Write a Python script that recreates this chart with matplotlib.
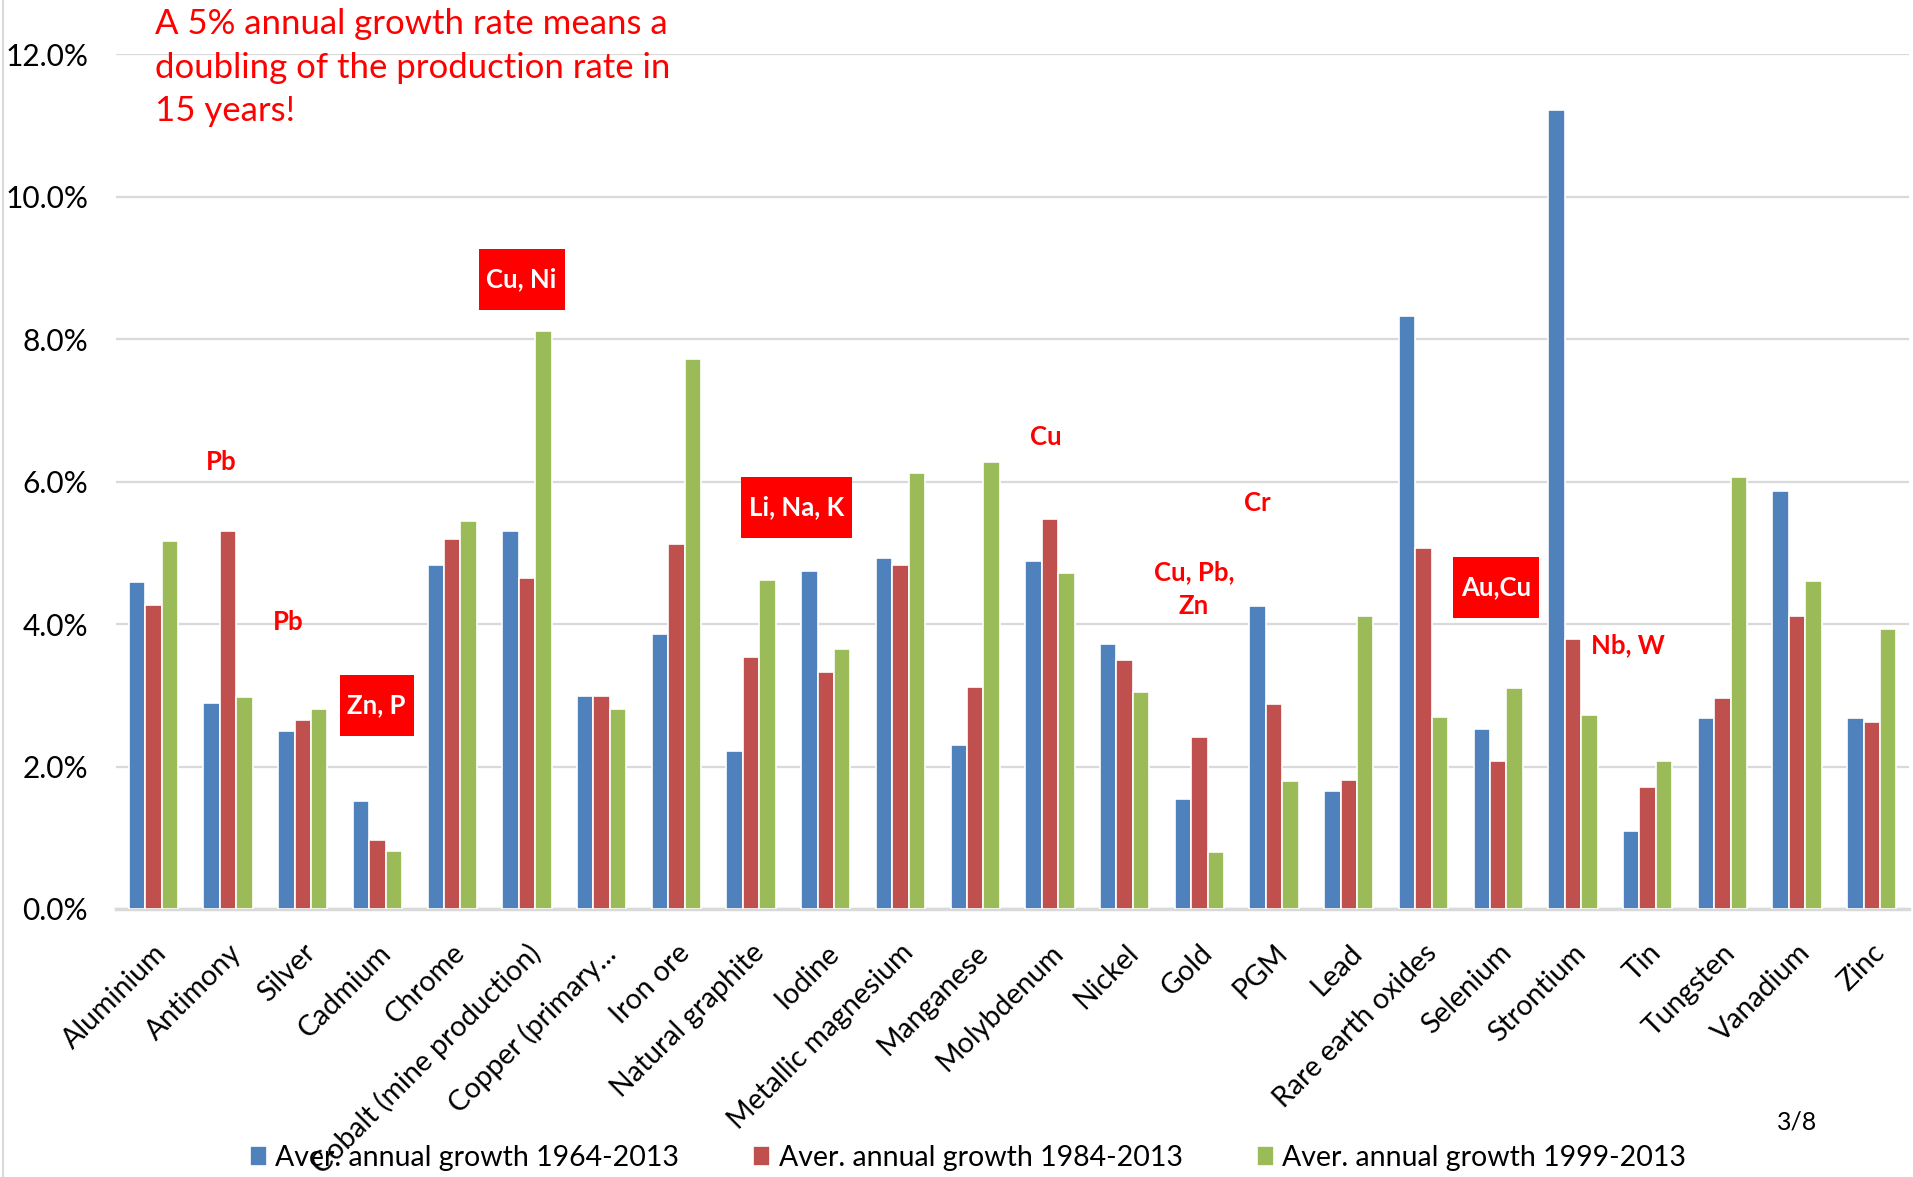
import matplotlib
matplotlib.use('Agg')
import matplotlib.pyplot as plt
import numpy as np
from matplotlib.lines import Line2D
from matplotlib.ticker import FuncFormatter

plt.rcParams['font.family'] = ['Lato', 'DejaVu Sans']

# average annual growth of production, in percent
minerals = ['Aluminium', 'Antimony', 'Silver', 'Cadmium', 'Chrome',
            'Cobalt (mine production)', 'Copper (primary...', 'Iron ore',
            'Natural graphite', 'Iodine', 'Metallic magnesium', 'Manganese',
            'Molybdenum', 'Nickel', 'Gold', 'PGM', 'Lead', 'Rare earth oxides',
            'Selenium', 'Strontium', 'Tin', 'Tungsten', 'Vanadium', 'Zinc']
growth_1964 = [4.59, 2.89, 2.50, 1.51, 4.83, 5.30, 2.99, 3.86, 2.22, 4.74, 4.93, 2.30,
               4.89, 3.72, 1.55, 4.26, 1.66, 8.32, 2.53, 11.21, 1.10, 2.68, 5.87, 2.68]
growth_1984 = [4.27, 5.30, 2.65, 0.97, 5.19, 4.64, 2.99, 5.13, 3.54, 3.33, 4.83, 3.11,
               5.48, 3.50, 2.41, 2.88, 1.81, 5.07, 2.08, 3.79, 1.71, 2.96, 4.11, 2.62]
growth_1999 = [5.17, 2.97, 2.81, 0.82, 5.45, 8.11, 2.81, 7.72, 4.62, 3.65, 6.12, 6.27,
               4.71, 3.05, 0.80, 1.79, 4.11, 2.69, 3.10, 2.73, 2.08, 6.07, 4.60, 3.93]
series_names = ['Aver. annual growth 1964-2013', 'Aver. annual growth 1984-2013',
                'Aver. annual growth 1999-2013']
colors = ['#4F81BD', '#C0504D', '#9BBB59']

# by-product notes: (text, x, y, boxed)
notes = [('Pb', 0.905, 6.27, False),
         ('Pb', 1.80, 4.03, False),
         ('Zn, P', 2.99, 2.86, True),
         ('Cu, Ni', 4.93, 8.84, True),
         ('Li, Na, K', 8.61, 5.64, True),
         ('Cu', 11.95, 6.62, False),
         ('Cr', 14.78, 5.70, False),
         ('Cu, Pb,\nZn', 13.93, 4.49, False),
         ('Au,Cu', 17.97, 4.52, True),
         ('Nb, W', 19.73, 3.71, False)]

fig = plt.figure(figsize=(19.13, 11.77), dpi=100)
ax = fig.add_axes([0.0606, 0.2277, 0.9374, 0.7263])

x = np.arange(len(minerals))
w = 0.22
for k, vals in enumerate([growth_1964, growth_1984, growth_1999]):
    ax.bar(x + (k - 1) * w, vals, w, color=colors[k], edgecolor='white',
           linewidth=1.2, label=series_names[k], zorder=3)

ax.set_xlim(-0.5, len(minerals) - 0.5)
ax.set_ylim(0, 12)
ax.set_yticks(np.arange(0, 12.1, 2))
ax.yaxis.set_major_formatter(FuncFormatter(lambda v, p: '%.1f%%' % v))
ax.grid(axis='y', color='#D9D9D9', linewidth=1.6, zorder=0)
for s in ['top', 'right', 'left']:
    ax.spines[s].set_visible(False)
ax.spines['bottom'].set_color('#D9D9D9')
ax.spines['bottom'].set_linewidth(2.5)
ax.tick_params(axis='y', length=0, labelsize=21.5, pad=20)
ax.tick_params(axis='x', length=0, labelsize=20.5, pad=22)
ax.set_xticks(x)
ax.set_xticklabels(minerals, rotation=45, ha='right', rotation_mode='anchor')

for txt, tx, ty, boxed in notes:
    if boxed:
        ax.text(tx, ty, txt, color='white', fontsize=18.5, fontweight='bold',
                ha='center', va='center', zorder=5,
                bbox=dict(boxstyle='square,pad=0.3', mutation_aspect=2.4,
                          facecolor='#FF0000', edgecolor='none'))
    else:
        ax.text(tx, ty, txt, color='#FF0000', fontsize=18.5, fontweight='bold',
                ha='center', va='center', linespacing=1.5, zorder=5)

fig.text(155 / 1913, 1 - 8 / 1177,
         'A 5% annual growth rate means a\ndoubling of the production rate in\n15 years!',
         color='#FF0000', fontsize=25, ha='left', va='top', linespacing=1.45)

fig.text(1797 / 1913, 1 - 1122 / 1177, '3/8', fontsize=18, ha='center', va='center')

fig.legend(loc='center', bbox_to_anchor=(0.506, 1 - 1158 / 1177), ncol=3, frameon=False,
           fontsize=20.5, handlelength=0.6, handleheight=0.75, handletextpad=0.3,
           columnspacing=2.6)

# light outer border of the chart area
fig.add_artist(Line2D([3 / 1913, 3 / 1913], [0, 1], color='#D9D9D9', linewidth=1.5))

fig.savefig('out.png', dpi=100)
